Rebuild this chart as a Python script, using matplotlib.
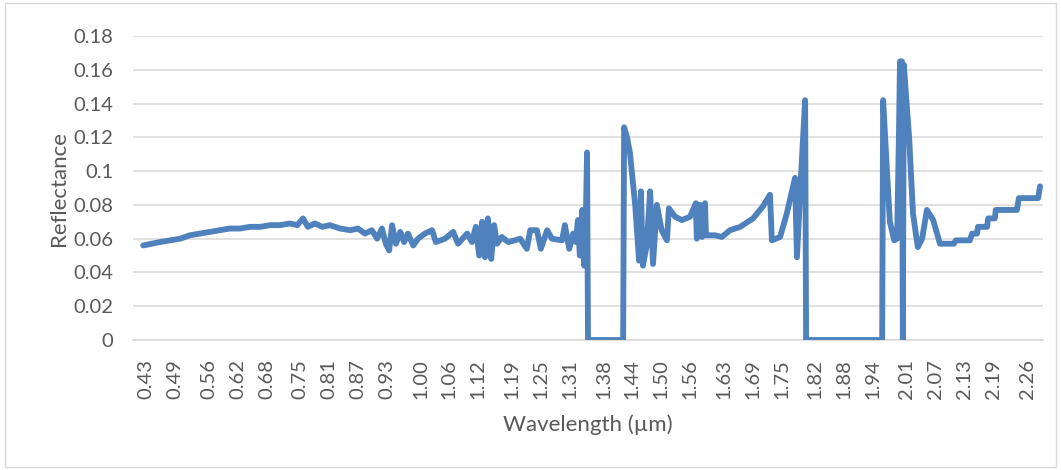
import matplotlib
matplotlib.use("Agg")
import matplotlib.pyplot as plt
from matplotlib.patches import Rectangle

# spectrum (wavelength in um, reflectance)
wavelength = [
    0.424, 0.442, 0.459, 0.480, 0.501, 0.521, 0.542, 0.563, 0.584, 0.604,
    0.625, 0.646, 0.667, 0.688, 0.708, 0.729, 0.744, 0.756, 0.766, 0.781,
    0.796, 0.812, 0.833, 0.854, 0.870, 0.885, 0.899, 0.910, 0.920, 0.928,
    0.935, 0.941, 0.949, 0.958, 0.966, 0.974, 0.985, 0.995, 1.009, 1.024,
    1.032, 1.051, 1.068, 1.078, 1.097, 1.107, 1.115, 1.122, 1.128, 1.134,
    1.140, 1.147, 1.153, 1.159, 1.169, 1.182, 1.196, 1.207, 1.221, 1.228,
    1.242, 1.250, 1.263, 1.273, 1.294, 1.300, 1.309, 1.317, 1.323, 1.327,
    1.331, 1.336, 1.340, 1.344, 1.346, 1.348, 1.421, 1.423, 1.429, 1.435,
    1.446, 1.454, 1.458, 1.462, 1.470, 1.477, 1.483, 1.491, 1.501, 1.512,
    1.516, 1.529, 1.543, 1.560, 1.572, 1.574, 1.581, 1.585, 1.591, 1.593,
    1.612, 1.626, 1.643, 1.664, 1.691, 1.711, 1.726, 1.730, 1.747, 1.761,
    1.778, 1.782, 1.793, 1.799, 1.801, 1.959, 1.961, 1.969, 1.975, 1.984,
    1.990, 1.994, 1.996, 2.000, 2.002, 2.004, 2.009, 2.015, 2.023, 2.033,
    2.042, 2.052, 2.065, 2.073, 2.079, 2.108, 2.112, 2.141, 2.146, 2.156,
    2.158, 2.177, 2.179, 2.193, 2.195, 2.239, 2.243, 2.283, 2.287,
]
reflectance = [
    0.056, 0.057, 0.058, 0.059, 0.060, 0.062, 0.063, 0.064, 0.065, 0.066,
    0.066, 0.067, 0.067, 0.068, 0.068, 0.069, 0.068, 0.072, 0.067, 0.069,
    0.067, 0.068, 0.066, 0.065, 0.066, 0.063, 0.065, 0.060, 0.066, 0.057,
    0.053, 0.068, 0.057, 0.064, 0.058, 0.063, 0.056, 0.060, 0.063, 0.065,
    0.058, 0.060, 0.064, 0.057, 0.063, 0.058, 0.067, 0.050, 0.070, 0.049,
    0.072, 0.048, 0.068, 0.057, 0.061, 0.058, 0.059, 0.060, 0.054, 0.065,
    0.065, 0.054, 0.065, 0.060, 0.059, 0.068, 0.054, 0.063, 0.058, 0.071,
    0.050, 0.077, 0.044, 0.080, 0.111, 0.000, 0.000, 0.126, 0.120, 0.111,
    0.080, 0.047, 0.088, 0.044, 0.056, 0.088, 0.045, 0.080, 0.065, 0.059,
    0.078, 0.073, 0.071, 0.073, 0.081, 0.060, 0.080, 0.061, 0.081, 0.062,
    0.062, 0.061, 0.065, 0.067, 0.072, 0.079, 0.086, 0.059, 0.061, 0.075,
    0.096, 0.049, 0.111, 0.142, 0.000, 0.000, 0.142, 0.100, 0.070, 0.059,
    0.060, 0.125, 0.165, 0.165, 0.000, 0.163, 0.143, 0.120, 0.075, 0.055,
    0.060, 0.077, 0.071, 0.063, 0.057, 0.057, 0.059, 0.059, 0.063, 0.063,
    0.067, 0.067, 0.072, 0.072, 0.077, 0.077, 0.084, 0.084, 0.091,
]

tick_labels = ["0.43", "0.49", "0.56", "0.62", "0.68", "0.75", "0.81", "0.87",
               "0.93", "1.00", "1.06", "1.12", "1.19", "1.25", "1.31", "1.38",
               "1.44", "1.50", "1.56", "1.63", "1.69", "1.75", "1.82", "1.88",
               "1.94", "2.01", "2.07", "2.13", "2.19", "2.26"]
y_ticks = [0, 0.02, 0.04, 0.06, 0.08, 0.1, 0.12, 0.14, 0.16, 0.18]
y_labels = ["0", "0.02", "0.04", "0.06", "0.08", "0.1", "0.12", "0.14", "0.16", "0.18"]

plt.rcParams['font.family'] = ['Lato', 'DejaVu Sans']
text_col = '#595959'

fig = plt.figure(figsize=(10.61, 4.70), dpi=100)
ax = fig.add_axes([0.1254, 0.2766, 0.8576, 0.6468])

ax.plot(wavelength, reflectance, color='#4F81BD', lw=4.2,
        solid_joinstyle='round', solid_capstyle='round', zorder=3)

ax.set_xlim(0.403, 2.293)
ax.set_ylim(0, 0.18)
ax.set_yticks(y_ticks)
ax.set_yticklabels(y_labels)
ax.set_xticks([float(t) for t in tick_labels])
ax.set_xticklabels(tick_labels, rotation=90, va='top', ha='center')
ax.tick_params(axis='both', length=0, labelsize=14.5, labelcolor=text_col)
ax.tick_params(axis='x', pad=14)
ax.tick_params(axis='y', pad=14)

ax.grid(axis='y', color='#D9D9D9', lw=1.1, zorder=0)
for s in ['top', 'right', 'left']:
    ax.spines[s].set_visible(False)
ax.spines['bottom'].set_color('#D9D9D9')
ax.spines['bottom'].set_linewidth(1.1)

ax.set_ylabel('Reflectance', fontsize=16, color=text_col, labelpad=3)
ax.set_xlabel('Wavelength (µm)', fontsize=16, color=text_col, labelpad=11)

# chart area border
fig.patches.append(Rectangle((0.005, 0.006), 0.99, 0.988, transform=fig.transFigure,
                             fill=False, edgecolor='#D9D9D9', lw=1))

fig.savefig('out.png', dpi=100)
